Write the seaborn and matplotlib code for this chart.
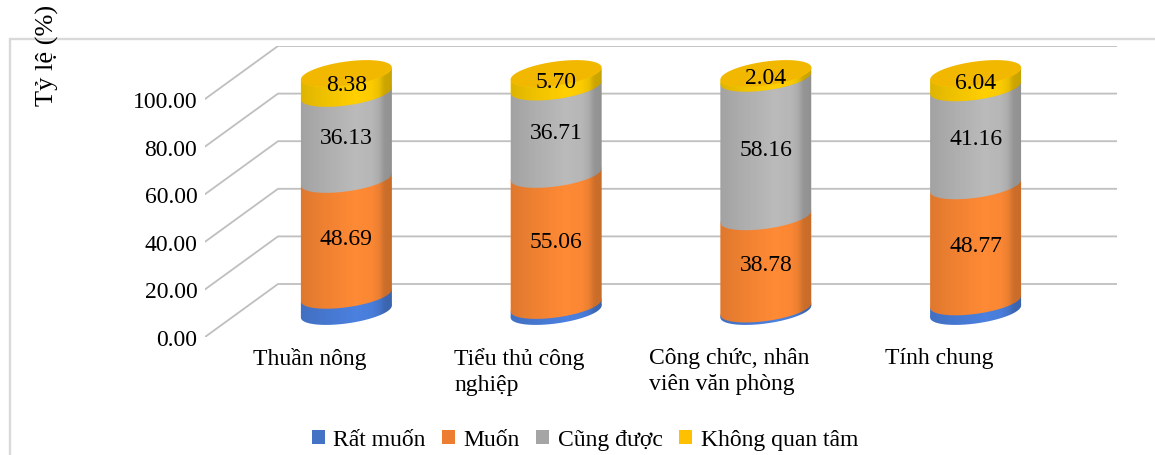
import numpy as np
import matplotlib
matplotlib.use("Agg")
import matplotlib.pyplot as plt
from matplotlib.patches import Polygon, Patch
from matplotlib.transforms import Affine2D
from matplotlib.lines import Line2D
import seaborn as sns

categories = ["Thuần nông", "Tiểu thủ công\nnghiệp", "Công chức, nhân\nviên văn phòng", "Tính chung"]
rat_muon = [6.80, 2.53, 1.02, 4.03]
muon = [48.69, 55.06, 38.78, 48.77]
cung_duoc = [36.13, 36.71, 58.16, 41.16]
khong_quan_tam = [8.38, 5.70, 2.04, 6.04]
series_names = ["Rất muốn", "Muốn", "Cũng được", "Không quan tâm"]
series_values = [rat_muon, muon, cung_duoc, khong_quan_tam]
legend_colors = ["#4472c4", "#ed7d31", "#a5a5a5", "#ffc000"]
body_colors = ["#4b80de", "#ff8a35", "#bababa", "#ffcf00"]
cap_color = "#f2b800"
y_ticks = [0, 20, 40, 60, 80, 100]
y_tick_labels = ["0.00", "20.00", "40.00", "60.00", "80.00", "100.00"]

sns.set_theme(style="white")
plt.rcParams["font.family"] = ["Liberation Serif", "DejaVu Serif"]

W, H = 1155, 456
FS = 17
fig = plt.figure(figsize=(W / 100, H / 100), dpi=100)
ax = fig.add_axes([205 / W, 1 - 338 / H, 912 / W, 291 / H])

PX_Y = 2.38            # px per value unit
PX_X = 209.75          # px per category
wall_dx, wall_dy = 73 / PX_X, 53 / PX_Y
mid_dx, mid_dy = 36.5 / PX_X, 25.5 / PX_Y
half_w = 45.5 / PX_X
tilt = (6 / PX_Y) / half_w
b = 12 / PX_Y

idx = np.arange(len(categories), dtype=float)
xpos = idx + mid_dx


def arc(xc, cy, t0, t1, n=60):
    t = np.linspace(t0, t1, n)
    x = xc + half_w * np.cos(t)
    y = cy + tilt * half_w * np.cos(t) + b * np.sin(t)
    return np.column_stack([x, y])


# walls and depth lines
grid_c = "#bfbfbf"
for v in y_ticks:
    ax.plot([-0.5, -0.5 + wall_dx, 3.5 + wall_dx], [v, v + wall_dy, v + wall_dy],
            color=grid_c, lw=1.3, zorder=1, solid_joinstyle="miter")

# stacked cylinders, bottom to top
cum = np.zeros(len(categories))
for vals, col in zip(series_values, body_colors):
    vals = np.array(vals)
    n0 = len(ax.patches)
    sns.barplot(x=xpos, y=vals, bottom=cum + mid_dy, native_scale=True, width=2 * half_w,
                color=col, saturation=1, linewidth=0, zorder=2, ax=ax, legend=False)
    for p in ax.patches[n0:]:
        xc = p.get_x() + p.get_width() / 2
        m = np.array([[1, 0, 0], [tilt, 1, -tilt * xc], [0, 0, 1]])
        p.set_transform(Affine2D(m) + ax.transData)
    for xc, c in zip(xpos, cum):
        ax.add_patch(Polygon(arc(xc, c + mid_dy, 0, 2 * np.pi), closed=True, fc=col, ec="none", zorder=2))
    cum = cum + vals

# side shading
stops_x = [0, .08, .25, .6, .78, .86, .92, 1]
stops_a = [.13, .11, .07, 0, .02, .08, .20, .22]
xs = np.linspace(0, 1, 256)
grad = np.zeros((1, 256, 4))
grad[..., 3] = np.interp(xs, stops_x, stops_a)
for xc, top in zip(xpos, cum):
    lower = arc(xc, mid_dy, np.pi, 2 * np.pi)
    upper = arc(xc, top + mid_dy, 2 * np.pi, np.pi)
    clip = Polygon(np.vstack([lower, upper]), closed=True, transform=ax.transData)
    im = ax.imshow(grad, extent=[xc - half_w, xc + half_w, 0, 122], aspect="auto",
                   interpolation="bilinear", zorder=2.5)
    im.set_clip_path(clip)
    ax.add_patch(Polygon(arc(xc, top + mid_dy, 0, 2 * np.pi), closed=True, fc=cap_color, ec="none", zorder=3))

# value labels (blue segment has none)
label_nudge = 1.5 / PX_Y
cum = np.array(rat_muon, dtype=float)
for vals in series_values[1:]:
    for xc, c, v in zip(xpos, cum, vals):
        ax.text(xc, c + v / 2 + mid_dy - label_nudge, f"{v:.2f}", ha="center", va="center",
                fontsize=FS, color="black", zorder=5)
    cum = cum + np.array(vals)

ax.set_xlim(-0.5, 3.5 + wall_dx)
ax.set_ylim(0, 291 / PX_Y)
ax.set_yticks(y_ticks, y_tick_labels)
ax.set_xticks(idx, categories, multialignment="left", linespacing=1.3)
ax.tick_params(axis="both", length=0, labelsize=FS, colors="black")
ax.tick_params(axis="y", pad=5.5)
ax.tick_params(axis="x", pad=7.5)
ax.set_xlabel("")
ax.set_ylabel("Tỷ lệ (%)", fontsize=19, color="black")
ax.yaxis.set_label_coords((59 - 205) / 912, (338 - 55) / 291)
sns.despine(ax=ax, left=True, bottom=True)
ax.patch.set_alpha(0)

# chart-area frame
for xy in (([10, 10], [40, 456]), ([10, 1155], [40, 40])):
    fig.add_artist(Line2D(np.array(xy[0]) / W, 1 - np.array(xy[1]) / H, color="#d9d9d9", lw=1.7,
                          transform=fig.transFigure, zorder=-1))

handles = [Patch(fc=c, ec="none") for c in legend_colors]
fig.legend(handles, series_names, loc="center", bbox_to_anchor=(585 / W, 1 - 441 / H), ncol=4,
           frameon=False, fontsize=FS, handlelength=0.55, handleheight=0.55,
           handletextpad=0.36, columnspacing=0.7, borderpad=0, labelcolor="black")

fig.savefig("out.png", dpi=100)
